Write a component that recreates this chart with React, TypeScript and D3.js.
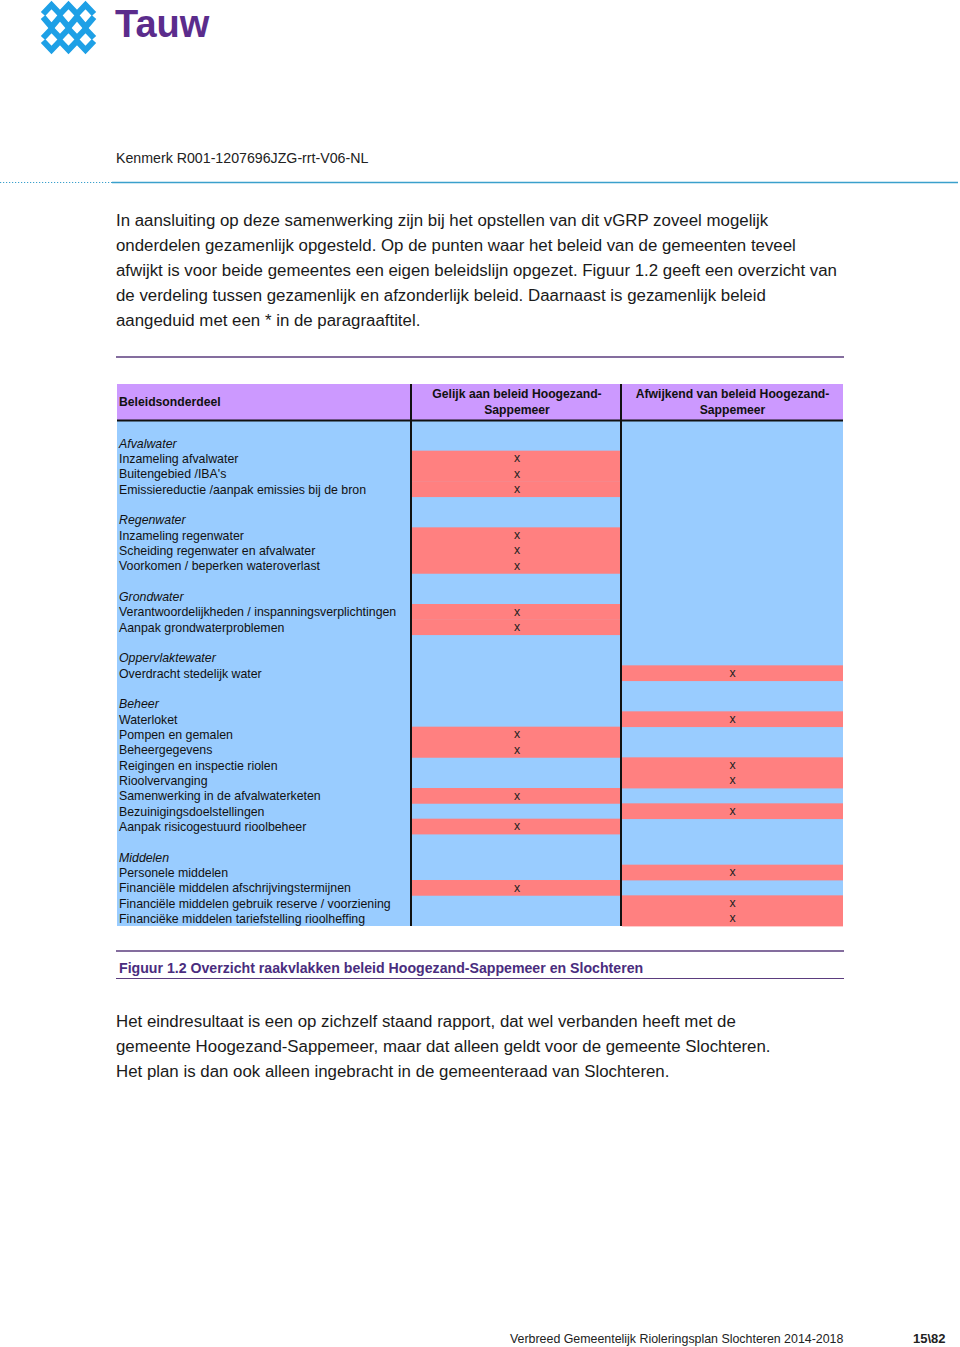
import { useMemo } from 'react';
import * as d3 from 'd3';

// --- page text ---
const introLines = [
  'In aansluiting op deze samenwerking zijn bij het opstellen van dit vGRP zoveel mogelijk',
  'onderdelen gezamenlijk opgesteld. Op de punten waar het beleid van de gemeenten teveel',
  'afwijkt is voor beide gemeentes een eigen beleidslijn opgezet. Figuur 1.2 geeft een overzicht van',
  'de verdeling tussen gezamenlijk en afzonderlijk beleid. Daarnaast is gezamenlijk beleid',
  'aangeduid met een * in de paragraaftitel.'
];

const outroLines = [
  'Het eindresultaat is een op zichzelf staand rapport, dat wel verbanden heeft met de',
  'gemeente Hoogezand-Sappemeer, maar dat alleen geldt voor de gemeente Slochteren.',
  'Het plan is dan ook alleen ingebracht in de gemeenteraad van Slochteren.'
];

// --- table data ---
const columnHeaders = [
  ['Beleidsonderdeel'],
  ['Gelijk aan beleid Hoogezand-', 'Sappemeer'],
  ['Afwijkend van beleid Hoogezand-', 'Sappemeer']
];

const rowLabels = [
  '',
  'Afvalwater',
  'Inzameling afvalwater',
  "Buitengebied /IBA's",
  'Emissiereductie /aanpak emissies bij de bron',
  '',
  'Regenwater',
  'Inzameling regenwater',
  'Scheiding regenwater en afvalwater',
  'Voorkomen / beperken wateroverlast',
  '',
  'Grondwater',
  'Verantwoordelijkheden / inspanningsverplichtingen',
  'Aanpak grondwaterproblemen',
  '',
  'Oppervlaktewater',
  'Overdracht stedelijk water',
  '',
  'Beheer',
  'Waterloket',
  'Pompen en gemalen',
  'Beheergegevens',
  'Reigingen en inspectie riolen',
  'Rioolvervanging',
  'Samenwerking in de afvalwaterketen',
  'Bezuinigingsdoelstellingen',
  'Aanpak risicogestuurd rioolbeheer',
  '',
  'Middelen',
  'Personele middelen',
  'Financiële middelen afschrijvingstermijnen',
  'Financiële middelen gebruik reserve / voorziening',
  'Financiëke middelen tariefstelling rioolheffing'
];

const categories = ['Afvalwater', 'Regenwater', 'Grondwater', 'Oppervlaktewater', 'Beheer', 'Middelen'];

const gelijk = [
  'Inzameling afvalwater',
  "Buitengebied /IBA's",
  'Emissiereductie /aanpak emissies bij de bron',
  'Inzameling regenwater',
  'Scheiding regenwater en afvalwater',
  'Voorkomen / beperken wateroverlast',
  'Verantwoordelijkheden / inspanningsverplichtingen',
  'Aanpak grondwaterproblemen',
  'Pompen en gemalen',
  'Beheergegevens',
  'Samenwerking in de afvalwaterketen',
  'Aanpak risicogestuurd rioolbeheer',
  'Financiële middelen afschrijvingstermijnen'
];

const afwijkend = [
  'Overdracht stedelijk water',
  'Waterloket',
  'Reigingen en inspectie riolen',
  'Rioolvervanging',
  'Bezuinigingsdoelstellingen',
  'Personele middelen',
  'Financiële middelen gebruik reserve / voorziening',
  'Financiëke middelen tariefstelling rioolheffing'
];

const caption = 'Figuur 1.2 Overzicht raakvlakken beleid Hoogezand-Sappemeer en Slochteren';

const FONT = '"Liberation Sans", Arial, Helvetica, sans-serif';
const HEADER_BG = '#cc99ff';
const BODY_BG = '#99ccff';
const MARK_BG = '#ff8080';
const PURPLE = '#5b3c7e';

function Logo() {
  // zigzag strokes forming the diamond lattice
  const xs = [43, 51.5, 60, 68.5, 77, 85.5, 94];
  const rows = [
    { top: 5, bottom: 14, up: true },
    { top: 17, bottom: 27, up: false },
    { top: 29, bottom: 38, up: true },
    { top: 41, bottom: 50, up: false }
  ];
  const line = d3.line<[number, number]>();
  return (
    <g>
      {rows.map((r, i) => {
        const pts: [number, number][] = xs.map((x, j) => {
          const peak = j % 2 === 1;
          const yy = r.up ? (peak ? r.top : r.bottom) : peak ? r.bottom : r.top;
          return [x, yy];
        });
        return (
          <path key={i} d={line(pts) || ''} fill="none" stroke="#1ea0e6" strokeWidth={6} strokeLinejoin="miter" />
        );
      })}
      <text x={115} y={37} fontFamily={FONT} fontWeight={700} fontSize={38} fill="#5b2c8c">
        Tauw
      </text>
    </g>
  );
}

export default function App() {
  const width = 960;
  const height = 1347;

  const colEdges = [117, 412, 622, 843];
  const headerTop = 384;
  const headerBottom = 420;
  const bodyBottom = 926;

  const y = useMemo(
    () => d3.scaleBand<number>().domain(d3.range(rowLabels.length)).range([headerBottom, bodyBottom]).padding(0),
    []
  );

  const marks = [
    { col: 1, items: gelijk },
    { col: 2, items: afwijkend }
  ];

  const lineY = (top: number, step: number) => d3.range(20).map((i) => top + i * step);
  const introY = lineY(220, 25);
  const outroY = lineY(1021, 25);

  return (
    <svg
      width={width}
      height={height}
      style={{ position: 'absolute', left: 0, top: 0, background: '#fff' }}
      fontFamily={FONT}
    >
      <Logo />

      {/* running header */}
      <text x={116} y={163} fontSize={14.2} fill="#222">
        Kenmerk R001-1207696JZG-rrt-V06-NL
      </text>
      <line x1={0} x2={112} y1={182.5} y2={182.5} stroke="#3aa0cc" strokeWidth={1.2} strokeDasharray="1.2 1.8" />
      <line x1={112} x2={958} y1={182.5} y2={182.5} stroke="#3aa0cc" strokeWidth={1.6} />

      {introLines.map((t, i) => (
        <text key={i} x={116} y={introY[i] + 6} fontSize={16.85} fill="#1a1a1a">
          {t}
        </text>
      ))}

      <line x1={116} x2={844} y1={357} y2={357} stroke={PURPLE} strokeWidth={1.6} />

      {/* table header */}
      <rect x={colEdges[0]} y={headerTop} width={colEdges[3] - colEdges[0]} height={headerBottom - headerTop} fill={HEADER_BG} />
      {columnHeaders.map((lines, c) => {
        const cx = c === 0 ? colEdges[0] + 2 : (colEdges[c] + colEdges[c + 1]) / 2;
        return lines.map((t, k) => (
          <text
            key={`${c}-${k}`}
            x={cx}
            y={lines.length === 1 ? 406 : 398 + k * 16}
            fontSize={12.2}
            fontWeight={700}
            textAnchor={c === 0 ? 'start' : 'middle'}
            fill="#111"
          >
            {t}
          </text>
        ));
      })}

      {/* table body */}
      <rect x={colEdges[0]} y={headerBottom} width={colEdges[3] - colEdges[0]} height={bodyBottom - headerBottom} fill={BODY_BG} />
      {marks.map(({ col, items }) =>
        rowLabels.map((label, i) =>
          label && items.includes(label) ? (
            <g key={`${col}-${i}`}>
              <rect
                x={colEdges[col]}
                y={y(i)!}
                width={colEdges[col + 1] - colEdges[col]}
                height={y.bandwidth() + 0.4}
                fill={MARK_BG}
              />
              <text
                x={(colEdges[col] + colEdges[col + 1]) / 2}
                y={y(i)! + y.bandwidth() / 2 + 4}
                fontSize={12.3}
                textAnchor="middle"
                fill="#222"
              >
                x
              </text>
            </g>
          ) : null
        )
      )}
      {rowLabels.map((label, i) =>
        label ? (
          <text
            key={i}
            x={colEdges[0] + 2}
            y={y(i)! + y.bandwidth() / 2 + 4.5}
            fontSize={12.35}
            fontStyle={categories.includes(label) ? 'italic' : 'normal'}
            fill="#111"
          >
            {label}
          </text>
        ) : null
      )}

      {/* grid lines */}
      <line x1={colEdges[0]} x2={colEdges[3]} y1={headerBottom + 0.5} y2={headerBottom + 0.5} stroke="#111" strokeWidth={2} />
      {[1, 2].map((c) => (
        <line key={c} x1={colEdges[c] - 1} x2={colEdges[c] - 1} y1={headerTop} y2={bodyBottom} stroke="#111" strokeWidth={2} />
      ))}

      {/* caption */}
      <line x1={116} x2={844} y1={951} y2={951} stroke={PURPLE} strokeWidth={1.6} />
      <text x={119} y={973} fontSize={14.15} fontWeight={700} fill="#4a2d7e">
        {caption}
      </text>
      <line x1={116} x2={844} y1={978.5} y2={978.5} stroke={PURPLE} strokeWidth={1} />

      {outroLines.map((t, i) => (
        <text key={i} x={116} y={outroY[i] + 6} fontSize={16.85} fill="#1a1a1a">
          {t}
        </text>
      ))}

      {/* footer */}
      <text x={510} y={1343} fontSize={12.4} fill="#222">
        Verbreed Gemeentelijk Rioleringsplan Slochteren 2014-2018
      </text>
      <text x={913} y={1343} fontSize={13} fontWeight={700} fill="#222">
        15\82
      </text>
    </svg>
  );
}
